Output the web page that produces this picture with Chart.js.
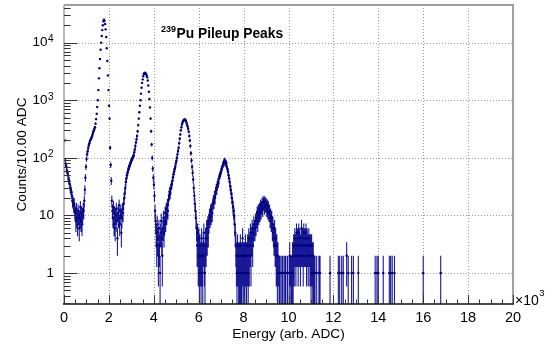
<!DOCTYPE html>
<html>
<head>
<meta charset="utf-8">
<script src="https://cdn.jsdelivr.net/npm/chart.js@4/dist/chart.umd.min.js"></script>
<style>
  html, body { margin: 0; padding: 0; background: #fff; }
  canvas { display: block; }
</style>
</head>
<body>
<canvas id="c" width="553" height="345" style="width:553px;height:345px"></canvas>
<script>
'use strict';

// ========================
// Data (counts per bin, one value every 25 ADC)
// ========================
const binStart = 5;
const binStep = 25;
const counts = [
  // 0 - 475
  500, 200, 90, 75, 70, 60, 55, 50, 42, 40, 35, 30, 28, 25, 22, 18, 17, 15, 16, 12,
  // 500 - 975
  11, 8, 13, 9, 7, 12, 10, 6, 9, 14, 8, 11, 7, 10, 13, 12, 18, 28, 45, 70,
  // 1000 - 1475
  95, 115, 130, 148, 165, 180, 195, 205, 215, 225, 240, 260, 280, 300, 320, 340, 390, 470, 580, 760,
  // 1500 - 1975 (first peak)
  1000, 1500, 2400, 3600, 5200, 7500, 10000, 13000, 16500, 20000, 23500, 25000, 24000, 21000, 17000, 12500, 8000, 4800, 2700, 1500,
  // 2000 - 2475
  800, 480, 150, 75, 40, 18, 12, 9, 14, 7, 11, 6, 10, 13, 8, 4, 11, 9, 15, 7,
  // 2500 - 2975
  10, 12, 5, 9, 13, 11, 16, 20, 24, 30, 38, 44, 50, 55, 60, 66, 70, 75, 80, 85,
  // 3000 - 3475
  90, 95, 100, 105, 110, 125, 140, 160, 185, 210, 240, 290, 370, 480, 620, 800, 1000, 1300, 1650, 2000,
  // 3500 - 3975 (second peak)
  2300, 2600, 2850, 2950, 3000, 2950, 2850, 2700, 2500, 2200, 1800, 1400, 1050, 750, 480, 290, 170, 100, 65, 45,
  // 4000 - 4475
  34, 22, 12, 8, 5, 3, 7, 4, 2, 6, 3, 1, 5, 8, 4, 2, 6, 9, 5, 7,
  // 4500 - 4975
  11, 8, 13, 10, 15, 12, 19, 22, 26, 24, 29, 33, 35, 40, 46, 52, 58, 64, 70, 80,
  // 5000 - 5475 (third peak)
  88, 100, 115, 132, 150, 180, 215, 255, 300, 340, 380, 410, 435, 450, 460, 465, 455, 440, 410, 380,
  // 5500 - 5975
  350, 320, 285, 240, 200, 160, 120, 90, 70, 55, 42, 30, 22, 16, 12, 9, 6, 3, 5, 2,
  // 6000 - 6475
  4, 1, 3, 2, 1, 4, 2, 1, 3, 5, 2, 1, 4, 3, 6, 4, 7, 5, 8, 10,
  // 6500 - 6975
  9, 12, 10, 13, 11, 16, 18, 17, 22, 20, 26, 30, 28, 34, 38, 36, 44, 48, 52, 55,
  // 7000 - 7475 (fourth peak)
  60, 66, 70, 75, 84, 80, 92, 86, 78, 82, 70, 64, 58, 50, 44, 38, 32, 28, 24, 20,
  // 7500 - 7975
  17, 14, 12, 10, 7, 5, 3, 2, 1, 3, 2, 1, 2, 1, 3, 1, 2, 1, 4, 2,
  // 8000 - 8475
  1, 2, 1, 3, 2, 1, 2, 3, 1, 4, 2, 3, 5, 2, 4, 6, 3, 5, 7, 6,
  // 8500 - 8975 (fifth peak)
  6, 8, 7, 9, 11, 8, 12, 10, 13, 11, 15, 12, 14, 17, 13, 16, 18, 14, 17, 15,
  // 9000 - 9475
  16, 13, 15, 12, 14, 11, 12, 9, 10, 8, 9, 6, 7, 5, 4, 6, 3, 4, 2, 3,
  // 9500 - 9975
  1, 2, 0, 1, 0, 1, 0, 0, 1, 0, 1, 0, 0, 1, 0, 1, 0, 0, 1, 0,
  // 10000 - 10475
  0, 1, 2, 0, 1, 0, 1, 2, 1, 3, 2, 4, 3, 2, 5, 3, 4, 2, 5, 3,
  // 10500 - 10975 (sixth peak)
  4, 2, 3, 6, 3, 4, 2, 5, 3, 4, 3, 5, 2, 4, 3, 2, 4, 3, 2, 3,
  // 11000 - 11475
  1, 3, 2, 1, 2, 1, 0, 1, 0, 0, 1, 0, 0, 0, 1, 0, 1, 0, 0, 0
];

// sparse single entries in the tail
const tailEnergy = [11850, 12220, 12280, 12370, 12440, 12590, 12660, 12810, 12890, 13110, 13860, 13940, 14000, 14220, 14490, 14550, 14620, 14720, 16000, 16780];
const tailCounts = [1, 1, 1, 1, 1, 2, 1, 1, 1, 1, 1, 1, 1, 1, 1, 1, 1, 1, 1, 1];

// axes
const xTicks = [0, 2000, 4000, 6000, 8000, 10000, 12000, 14000, 16000, 18000, 20000];
const xTickLabels = ['0', '2', '4', '6', '8', '10', '12', '14', '16', '18', '20'];
const yTicks = [1, 10, 100, 1000, 10000];
const yTickBase = ['1', '10', '10', '10', '10'];
const yTickExp = ['', '', '2', '3', '4'];

const title = ['239', 'Pu Pileup Peaks'];
const xTitle = 'Energy (arb. ADC)';
const yTitle = 'Counts/10.00 ADC';

// ========================
// Build points
// ========================
const points = [];
counts.forEach((n, i) => { if (n > 0) points.push({ x: binStart + i * binStep, y: n }); });
tailEnergy.forEach((e, i) => { if (tailCounts[i] > 0) points.push({ x: e, y: tailCounts[i] }); });

const FONT = '"Liberation Sans", Arial, Helvetica, sans-serif';

function hline(ctx, x0, x1, y) { ctx.beginPath(); ctx.moveTo(x0, y); ctx.lineTo(x1, y); ctx.stroke(); }
function vline(ctx, x, y0, y1) { ctx.beginPath(); ctx.moveTo(x, y0); ctx.lineTo(x, y1); ctx.stroke(); }

// ROOT-like frame, grid, error bars and labels
const rootFrame = {
  id: 'rootFrame',
  beforeDatasetsDraw(chart) {
    const { ctx, chartArea: a, scales: { x, y } } = chart;
    ctx.save();
    // dotted grid
    ctx.strokeStyle = '#9a9a9a';
    ctx.lineWidth = 1;
    ctx.setLineDash([1, 2]);
    xTicks.forEach(v => {
      if (v <= x.min || v >= x.max) return;
      const px = Math.round(x.getPixelForValue(v)) + 0.5;
      vline(ctx, px, a.top, a.bottom);
    });
    yTicks.forEach(v => {
      const py = Math.round(y.getPixelForValue(v)) + 0.5;
      hline(ctx, a.left, a.right, py);
    });
    ctx.setLineDash([]);

    // error bars (sqrt N)
    ctx.strokeStyle = 'rgba(0,0,140,0.9)';
    ctx.lineWidth = 1.1;
    ctx.beginPath();
    points.forEach(p => {
      const px = x.getPixelForValue(p.x);
      const s = Math.sqrt(p.y);
      const top = Math.max(y.getPixelForValue(p.y + s), a.top);
      const lo = p.y - s;
      const bot = lo > 0 ? Math.min(y.getPixelForValue(lo), a.bottom) : a.bottom;
      ctx.moveTo(px, top);
      ctx.lineTo(px, bot);
    });
    ctx.stroke();
    ctx.restore();
  },
  afterDraw(chart) {
    const { ctx, chartArea: a, scales: { x, y } } = chart;
    ctx.save();

    // frame
    ctx.strokeStyle = '#a0a0a0';
    ctx.lineWidth = 2;
    vline(ctx, a.right, a.top - 1, a.bottom);
    hline(ctx, a.left, a.right + 1, a.top);
    ctx.lineWidth = 1.5;
    vline(ctx, a.left, a.top, a.bottom);
    ctx.strokeStyle = '#111';
    ctx.lineWidth = 1.5;
    hline(ctx, a.left - 1, a.right + 1, a.bottom);

    // x ticks (major 2000, minor 500)
    ctx.strokeStyle = '#333';
    ctx.lineWidth = 1;
    for (let v = x.min; v <= x.max; v += 500) {
      const px = Math.round(x.getPixelForValue(v)) + 0.5;
      const len = (v % 2000 === 0) ? 9 : 4.5;
      vline(ctx, px, a.bottom, a.bottom - len);
    }
    // y ticks (decades + 2..9)
    for (let d = -1; d <= 4; d++) {
      for (let m = 1; m <= 9; m++) {
        const v = m * Math.pow(10, d);
        if (v < y.min || v > y.max) continue;
        const py = Math.round(y.getPixelForValue(v)) + 0.5;
        hline(ctx, a.left, a.left + (m === 1 ? 13.5 : 6.7), py);
      }
    }

    ctx.fillStyle = '#000';
    // x tick labels
    ctx.font = '14.5px ' + FONT;
    ctx.textAlign = 'center';
    ctx.textBaseline = 'middle';
    xTicks.forEach((v, i) => {
      ctx.fillText(xTickLabels[i], x.getPixelForValue(v), 318);
    });

    // y tick labels with exponents
    yTicks.forEach((v, i) => {
      const py = y.getPixelForValue(v);
      const exp = yTickExp[i];
      ctx.textBaseline = 'middle';
      if (!exp) {
        ctx.font = '13.5px ' + FONT;
        ctx.textAlign = 'right';
        ctx.fillText(yTickBase[i], 54, py);
      } else {
        ctx.font = '10px ' + FONT;
        ctx.textAlign = 'right';
        ctx.textBaseline = 'alphabetic';
        ctx.fillText(exp, 53.5, py - 0.5);
        const ew = ctx.measureText(exp).width;
        ctx.font = '13.5px ' + FONT;
        ctx.textBaseline = 'middle';
        ctx.fillText(yTickBase[i], 53.5 - ew - 0.5, py);
      }
    });

    // x10^3 multiplier
    ctx.textAlign = 'left';
    ctx.textBaseline = 'alphabetic';
    ctx.font = '14px ' + FONT;
    ctx.fillText('\u00d710', 515, 305);
    const mw = ctx.measureText('\u00d710').width;
    ctx.font = '9.5px ' + FONT;
    ctx.fillText('3', 515 + mw + 0.5, 296);

    // axis titles
    ctx.font = '13.7px ' + FONT;
    ctx.textAlign = 'center';
    ctx.fillText(xTitle, (a.left + a.right) / 2, 338);
    ctx.save();
    ctx.translate(26, (a.top + a.bottom) / 2);
    ctx.rotate(-Math.PI / 2);
    ctx.fillText(yTitle, 0, 0);
    ctx.restore();

    // title
    ctx.textAlign = 'left';
    ctx.font = 'bold 9px ' + FONT;
    ctx.fillText(title[0], 161, 32);
    ctx.font = 'bold 13.8px ' + FONT;
    ctx.fillText(title[1], 176.5, 38);

    ctx.restore();
  }
};

const chart = new Chart(document.getElementById('c'), {
  type: 'scatter',
  data: {
    datasets: [{
      data: points,
      pointRadius: 1.2,
      pointHoverRadius: 0,
      pointBorderWidth: 0,
      backgroundColor: '#00007a',
      borderColor: '#00007a'
    }]
  },
  options: {
    responsive: false,
    animation: false,
    events: [],
    layout: { padding: { left: 64, right: 40, top: 5, bottom: 41 } },
    plugins: { legend: { display: false }, tooltip: { enabled: false } },
    scales: {
      x: { type: 'linear', min: 0, max: 20000, display: false },
      y: { type: 'logarithmic', min: 0.29, max: 45000, display: false }
    }
  },
  plugins: [rootFrame]
});
</script>
</body>
</html>
